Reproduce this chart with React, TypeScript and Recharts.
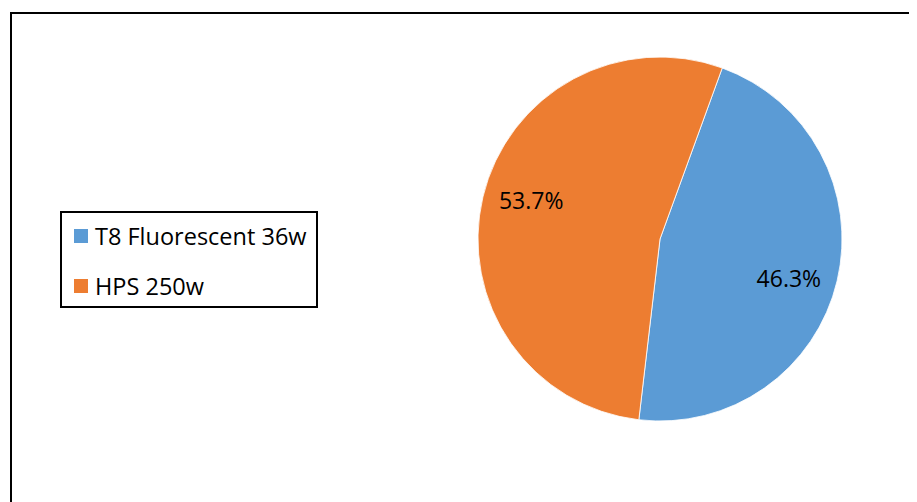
import { Cell, Legend, Pie, PieChart } from 'recharts'

const lampTypes = ['T8 Fluorescent 36w', 'HPS 250w']
const shares = [46.3, 53.7]
const sliceColors = ['#5B9BD5', '#ED7D31']

const data = lampTypes.map((name, i) => ({ name, value: shares[i] }))

const FONT = '"Open Sans", "Liberation Sans", sans-serif'
const RAD = Math.PI / 180

type LabelProps = {
  cx: number
  cy: number
  midAngle: number
  outerRadius: number
  value: number
}

// Excel nudges the inside labels a few degrees clockwise of the true mid angle
function renderLabel({ cx, cy, midAngle, outerRadius, value }: LabelProps) {
  const r = outerRadius * 0.74
  const a = (midAngle - 3.6) * RAD
  const x = cx + r * Math.cos(-a)
  const y = cy + r * Math.sin(-a)
  return (
    <text
      x={x}
      y={y}
      fill="#000"
      textAnchor="middle"
      dominantBaseline="central"
      style={{ fontFamily: FONT, fontSize: 23 }}
    >
      {value.toFixed(1)}%
    </text>
  )
}

function LegendBox() {
  return (
    <div
      style={{
        boxSizing: 'border-box',
        width: 258,
        height: 97,
        border: '2px solid #000',
        background: '#fff',
        padding: '10px 0 0 12px',
        fontFamily: FONT,
        fontSize: 23.5,
        color: '#000',
      }}
    >
      {lampTypes.map((name, i) => (
        <div
          key={name}
          style={{ display: 'flex', alignItems: 'center', height: 26, marginBottom: 24 }}
        >
          <span
            style={{ width: 14, height: 14, background: sliceColors[i], marginRight: 7 }}
          />
          <span style={{ lineHeight: '26px', whiteSpace: 'nowrap' }}>{name}</span>
        </div>
      ))}
    </div>
  )
}

export default function App() {
  return (
    <div style={{ position: 'relative', width: 909, height: 494, overflow: 'hidden', background: '#fff' }}>
      <div
        style={{
          position: 'absolute',
          left: 1.5,
          top: 4,
          width: 1000,
          height: 1000,
          border: '2.5px solid #000',
        }}
      />
      <div style={{ position: 'absolute', left: 0, top: 0 }}>
        <PieChart width={909} height={494} margin={{ top: 0, right: 0, bottom: 0, left: 0 }}>
          <Pie
            data={data}
            dataKey="value"
            nameKey="name"
            cx={652}
            cy={231}
            outerRadius={182}
            startAngle={70}
            endAngle={-290}
            stroke="#fff"
            strokeWidth={0.8}
            label={renderLabel}
            labelLine={false}
            isAnimationActive={false}
          >
            {data.map((d, i) => (
              <Cell key={d.name} fill={sliceColors[i]} />
            ))}
          </Pie>
          <Legend
            content={() => <LegendBox />}
            wrapperStyle={{ left: 52, top: 203, width: 258, height: 97 }}
          />
        </PieChart>
      </div>
    </div>
  )
}
